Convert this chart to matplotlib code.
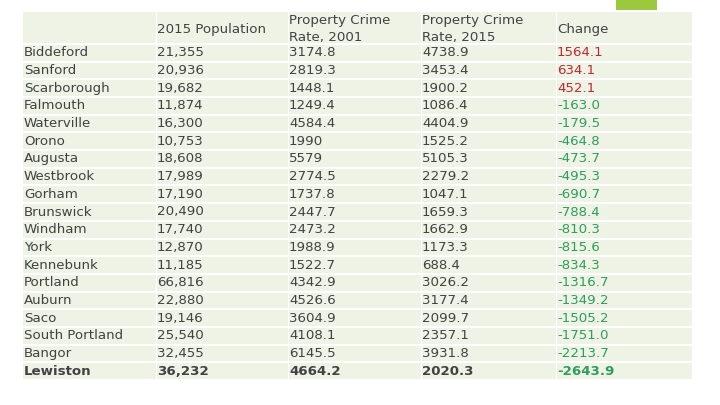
import matplotlib
matplotlib.use("Agg")
import matplotlib.pyplot as plt
from matplotlib.patches import Rectangle

# data
towns = ["Biddeford", "Sanford", "Scarborough", "Falmouth", "Waterville", "Orono",
         "Augusta", "Westbrook", "Gorham", "Brunswick", "Windham", "York", "Kennebunk",
         "Portland", "Auburn", "Saco", "South Portland", "Bangor", "Lewiston"]
population = ["21,355", "20,936", "19,682", "11,874", "16,300", "10,753", "18,608",
              "17,989", "17,190", "20,490", "17,740", "12,870", "11,185", "66,816",
              "22,880", "19,146", "25,540", "32,455", "36,232"]
rate_2001 = ["3174.8", "2819.3", "1448.1", "1249.4", "4584.4", "1990", "5579",
             "2774.5", "1737.8", "2447.7", "2473.2", "1988.9", "1522.7", "4342.9",
             "4526.6", "3604.9", "4108.1", "6145.5", "4664.2"]
rate_2015 = ["4738.9", "3453.4", "1900.2", "1086.4", "4404.9", "1525.2", "5105.3",
             "2279.2", "1047.1", "1659.3", "1662.9", "1173.3", "688.4", "3026.2",
             "3177.4", "2099.7", "2357.1", "3931.8", "2020.3"]
change = [1564.1, 634.1, 452.1, -163.0, -179.5, -464.8, -473.7, -495.3, -690.7,
          -788.4, -810.3, -815.6, -834.3, -1316.7, -1349.2, -1505.2, -1751.0,
          -2213.7, -2643.9]
headers = ["", "2015 Population", "Property Crime\nRate, 2001",
           "Property Crime\nRate, 2015", "Change"]

# layout in pixels
W, H = 720, 405
col_edges = [23, 156, 288, 421, 556, 692]
top, head_bottom, bottom = 12, 44, 380
bg = "#eef3e6"
txt = "#424242"
red = "#c0282d"
green = "#2e9e5a"

fig = plt.figure(figsize=(7.2, 4.05), dpi=100)
ax = fig.add_axes([0, 0, 1, 1])
ax.set_xlim(0, W)
ax.set_ylim(H, 0)
ax.axis("off")

plt.rcParams["font.family"] = ["DejaVu Sans"]
fs = 9.6

# accent block at top
ax.add_patch(Rectangle((616, 0), 41, 10, color="#9bc83c", lw=0))

nrows = len(towns)
row_h = (bottom - head_bottom) / nrows
row_tops = [top] + [head_bottom + i * row_h for i in range(nrows)]
row_bots = [head_bottom] + [head_bottom + (i + 1) * row_h for i in range(nrows)]

for r in range(nrows + 1):
    for c in range(5):
        x0 = col_edges[c] + (1 if c > 0 else 0)
        x1 = col_edges[c + 1]
        y0 = row_tops[r] + (1 if r > 0 else 0)
        y1 = row_bots[r] - 1
        ax.add_patch(Rectangle((x0, y0), x1 - x0, y1 - y0, color=bg, lw=0))

# header
for c, h in enumerate(headers):
    ax.text(col_edges[c] + 1, (top + head_bottom) / 2 + 1, h, fontsize=fs, color=txt,
            va="center", ha="left", linespacing=1.45)

# body
for i in range(nrows):
    yc = (row_tops[i + 1] + row_bots[i + 1]) / 2
    weight = "bold" if i == nrows - 1 else "normal"
    vals = [towns[i], population[i], rate_2001[i], rate_2015[i], f"{change[i]:.1f}"]
    for c, v in enumerate(vals):
        col = txt
        if c == 4:
            col = red if change[i] > 0 else green
        ax.text(col_edges[c] + 1, yc, v, fontsize=fs, color=col, va="center",
                ha="left", fontweight=weight)

fig.savefig("out.png", dpi=100, facecolor="white")
